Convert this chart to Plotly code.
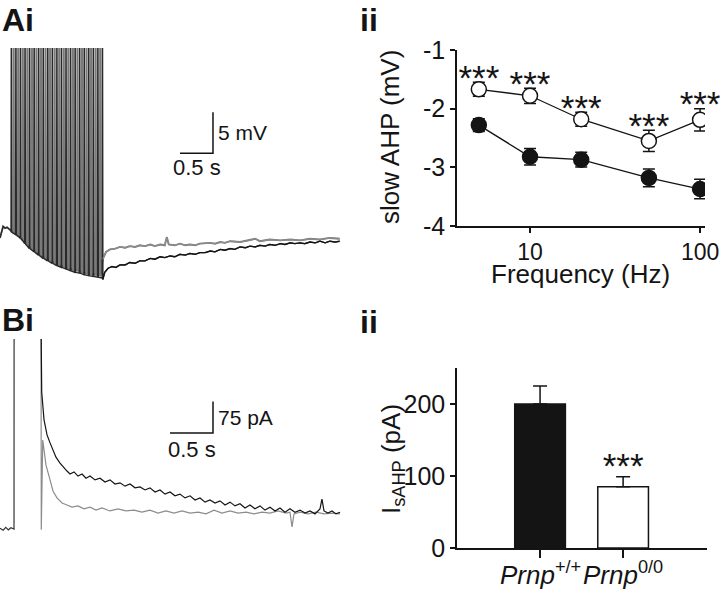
import plotly.graph_objects as go

# ---------------- DATA ----------------
# Panel Ai: current-clamp traces (time in s, membrane potential change in mV)
ai_pre_t = [-0.167, -0.14, -0.12, -0.09, -0.06, -0.03, 0.0]
ai_pre_v = [-1.2, -0.4, 0.2, 0.0, 0.1, -0.1, -0.3]

ai_black_spike_t = [0.0, 0.069, 0.138, 0.207, 0.276, 0.345, 0.414, 0.483, 0.552, 0.621, 0.69,
                    0.759, 0.828, 0.897, 0.966, 1.035, 1.104, 1.173, 1.242, 1.311, 1.38]
ai_black_trough = [-0.5, -0.8, -1.2, -1.9, -2.5, -2.9, -3.3, -3.7, -4.0, -4.3, -4.6,
                   -4.8, -5.0, -5.2, -5.4, -5.5, -5.7, -5.8, -5.9, -6.0, -6.1]
ai_gray_spike_t = [0.035, 0.104, 0.173, 0.242, 0.311, 0.38, 0.449, 0.518, 0.587, 0.656,
                   0.725, 0.794, 0.863, 0.932, 1.001, 1.07, 1.139, 1.208, 1.277, 1.346]
ai_gray_trough = [-0.6, -1.0, -1.5, -2.1, -2.6, -3.0, -3.4, -3.7, -4.0, -4.3,
                  -4.5, -4.7, -4.9, -5.1, -5.2, -5.4, -5.5, -5.6, -5.7, -5.8]
ai_spike_peak = 30.0

ai_black_post_t = [1.39, 1.42, 1.47, 1.53, 1.59, 1.65, 1.73, 1.80, 1.88, 1.95, 2.03, 2.11, 2.18, 2.26,
                   2.33, 2.41, 2.48, 2.56, 2.64, 2.71, 2.79, 2.86, 2.94, 3.02, 3.09, 3.17, 3.24, 3.32,
                   3.39, 3.47, 3.55, 3.62, 3.70, 3.77, 3.85, 3.92, 4.00, 4.08, 4.15, 4.23, 4.30, 4.38,
                   4.45, 4.53, 4.61, 4.68, 4.76, 4.83, 4.91, 4.98]
ai_black_post_v = [-6.3, -5.4, -4.9, -4.7, -4.8, -4.5, -4.5, -4.2, -4.3, -4.0, -4.0, -3.7, -3.8, -3.5,
                   -3.6, -3.4, -3.5, -3.2, -3.3, -3.1, -3.2, -3.0, -3.0, -2.8, -2.9, -2.6, -2.7, -2.5,
                   -2.6, -2.3, -2.4, -2.2, -2.3, -2.1, -2.2, -2.0, -2.1, -1.9, -2.0, -1.8, -1.9, -1.8,
                   -1.9, -1.7, -1.8, -1.6, -1.8, -1.6, -1.7, -1.6]
ai_gray_post_t = [1.39, 1.44, 1.50, 1.58, 1.65, 1.73, 1.80, 1.88, 1.95, 2.03, 2.11, 2.18, 2.26, 2.33,
                  2.36, 2.39, 2.48, 2.56, 2.64, 2.71, 2.79, 2.86, 3.02, 3.09, 3.17, 3.24, 3.32, 3.47,
                  3.62, 3.70, 3.77, 3.92, 4.08, 4.23, 4.38, 4.53, 4.68, 4.83, 4.98]
ai_gray_post_v = [-3.8, -2.9, -2.6, -2.5, -2.3, -2.4, -2.2, -2.3, -2.1, -2.2, -2.0, -2.2, -2.0, -2.1,
                  -1.1, -2.0, -2.1, -1.9, -2.1, -2.0, -2.1, -1.9, -1.8, -1.9, -1.7, -1.8, -1.6, -1.7,
                  -1.5, -1.3, -1.6, -1.4, -1.5, -1.4, -1.5, -1.3, -1.4, -1.2, -1.3]

# Panel Aii: slow AHP vs frequency
freq_hz = [5, 10, 20, 50, 100]
ahp_wt = [-2.28, -2.82, -2.87, -3.18, -3.37]          # filled circles
ahp_wt_err = [0.11, 0.14, 0.125, 0.15, 0.165]
ahp_ko = [-1.67, -1.78, -2.18, -2.55, -2.19]          # open circles
ahp_ko_err = [0.12, 0.13, 0.12, 0.18, 0.19]

# Panel Bi: voltage-clamp traces (time in s, current in pA)
bi_pre_t = [-0.477, -0.44, -0.41, -0.38, -0.35, -0.314, -0.313]
bi_pre_i = [2, -3, 4, -2, 3, 0, 500]
bi_black_t = [0.0, 0.008, 0.035, 0.070, 0.105, 0.140, 0.174, 0.221, 0.267, 0.302, 0.337, 0.384, 0.430,
              0.477, 0.523, 0.570, 0.628, 0.686, 0.744, 0.802, 0.860, 0.919, 0.977, 1.035, 1.093,
              1.151, 1.209, 1.267, 1.326, 1.384, 1.442, 1.500, 1.558, 1.616, 1.674, 1.733, 1.791,
              1.849, 1.907, 1.965, 2.023, 2.081, 2.140, 2.198, 2.256, 2.314, 2.372, 2.430, 2.488,
              2.547, 2.605, 2.663, 2.721, 2.779, 2.837, 2.895, 2.953, 3.012, 3.070, 3.128, 3.186,
              3.244, 3.267, 3.291, 3.337, 3.384, 3.430, 3.477]
bi_black_i = [500, 326, 260, 224, 205, 188, 171, 157, 145, 138, 131, 136, 126,
              131, 121, 126, 117, 121, 112, 117, 107, 110, 102, 107, 98,
              100, 93, 98, 88, 93, 83, 88, 79, 83, 74, 79, 69,
              74, 64, 69, 62, 67, 57, 64, 55, 60, 50, 57, 48,
              55, 45, 52, 43, 50, 40, 48, 40, 45, 38, 43, 36,
              48, 71, 43, 38, 43, 36, 40]
bi_gray_t = [0.0, 0.003, 0.020, 0.058, 0.105, 0.140, 0.186, 0.244, 0.302, 0.360, 0.430, 0.500, 0.570,
             0.640, 0.709, 0.802, 0.895, 0.988, 1.081, 1.174, 1.267, 1.360, 1.453, 1.547, 1.640,
             1.733, 1.826, 1.919, 2.012, 2.105, 2.198, 2.291, 2.384, 2.477, 2.570, 2.663, 2.756,
             2.849, 2.895, 2.919, 2.942, 3.012, 3.105, 3.198, 3.291, 3.384, 3.477]
bi_gray_i = [500, -2, 212, 152, 117, 90, 74, 62, 57, 52, 55, 48, 52,
             45, 50, 43, 48, 43, 45, 40, 45, 38, 43, 38, 43,
             38, 40, 36, 45, 38, 43, 38, 40, 36, 40, 38, 43,
             38, 40, 5, 36, 40, 36, 40, 36, 38, 36]

# Panel Bii: I_sAHP bar chart
genotypes = ["<i>Prnp</i><sup>+/+</sup>", "<i>Prnp</i><sup>0/0</sup>"]
isahp_mean = [200, 85]
isahp_err = [25, 14]

# ---------------- FIGURE ----------------
BLACK = "#141414"
GRAY = "#8c8c8c"
FONT = "Liberation Sans, Arial, sans-serif"
W, H = 720, 590


def dom_x(a, b):
    return [a / W, b / W]


def dom_y(top, bottom):
    return [1 - bottom / H, 1 - top / H]


def spike_path(pre_t, pre_v, st, tr, post_t, post_v):
    xs, ys = list(pre_t), list(pre_v)
    for t, v in zip(st, tr):
        xs += [t, t + 0.005, t + 0.012]
        ys += [v, ai_spike_peak, v]
    xs += post_t
    ys += post_v
    return xs, ys


fig = go.Figure()

# Ai traces
gx, gy = spike_path(ai_pre_t, ai_pre_v, ai_gray_spike_t, ai_gray_trough, ai_gray_post_t, ai_gray_post_v)
bx, by = spike_path(ai_pre_t, ai_pre_v, ai_black_spike_t, ai_black_trough, ai_black_post_t, ai_black_post_v)
fig.add_trace(go.Scatter(x=gx, y=gy, mode="lines", line=dict(color="#7a7a7a", width=1.9),
                         xaxis="x", yaxis="y", hoverinfo="skip"))
fig.add_trace(go.Scatter(x=bx, y=by, mode="lines", line=dict(color="#2a2a2a", width=1.4),
                         xaxis="x", yaxis="y", hoverinfo="skip"))
fig.add_trace(go.Scatter(x=ai_gray_post_t, y=ai_gray_post_v, mode="lines", line=dict(color=GRAY, width=1.3),
                         xaxis="x", yaxis="y", hoverinfo="skip"))
fig.add_trace(go.Scatter(x=ai_black_post_t, y=ai_black_post_v, mode="lines", line=dict(color=BLACK, width=1.3),
                         xaxis="x", yaxis="y", hoverinfo="skip"))
# Ai scale bar: 0.5 s, 5 mV
fig.add_trace(go.Scatter(x=[2.56, 3.06, 3.06], y=[9.15, 9.15, 14.15], mode="lines",
                         line=dict(color=BLACK, width=1.5), xaxis="x", yaxis="y", hoverinfo="skip"))

# Aii
fig.add_trace(go.Scatter(x=freq_hz, y=ahp_wt, mode="lines+markers",
                         line=dict(color=BLACK, width=1.3),
                         marker=dict(symbol="circle", size=15, color=BLACK, line=dict(color=BLACK, width=1.5)),
                         error_y=dict(type="data", array=ahp_wt_err, color=BLACK, thickness=1.5, width=6),
                         xaxis="x2", yaxis="y2", hoverinfo="skip"))
fig.add_trace(go.Scatter(x=freq_hz, y=ahp_ko, mode="lines+markers",
                         line=dict(color=BLACK, width=1.3),
                         marker=dict(symbol="circle", size=15, color="white", line=dict(color=BLACK, width=1.5)),
                         error_y=dict(type="data", array=ahp_ko_err, color=BLACK, thickness=1.5, width=6),
                         xaxis="x2", yaxis="y2", hoverinfo="skip"))
fig.add_trace(go.Scatter(x=freq_hz, y=[v + e + 0.02 for v, e in zip(ahp_ko, ahp_ko_err)],
                         mode="text", text=["***"] * len(freq_hz), textposition="middle center",
                         textfont=dict(family=FONT, size=35, color=BLACK),
                         xaxis="x2", yaxis="y2", hoverinfo="skip", cliponaxis=False))

# Bi traces
fig.add_trace(go.Scatter(x=bi_pre_t, y=bi_pre_i, mode="lines", line=dict(color="#333333", width=1.2),
                         xaxis="x3", yaxis="y3", hoverinfo="skip"))
fig.add_trace(go.Scatter(x=bi_gray_t, y=bi_gray_i, mode="lines", line=dict(color=GRAY, width=1.2),
                         xaxis="x3", yaxis="y3", hoverinfo="skip"))
fig.add_trace(go.Scatter(x=bi_black_t, y=bi_black_i, mode="lines", line=dict(color=BLACK, width=1.2),
                         xaxis="x3", yaxis="y3", hoverinfo="skip"))
# Bi scale bar: 0.5 s, 75 pA
fig.add_trace(go.Scatter(x=[1.5, 2.0, 2.0], y=[228.6, 228.6, 303.6], mode="lines",
                         line=dict(color=BLACK, width=1.5), xaxis="x3", yaxis="y3", hoverinfo="skip"))

# Bii
bar_x = [0, 1]
fig.add_trace(go.Bar(x=bar_x, y=isahp_mean, width=0.61,
                     marker=dict(color=[BLACK, "white"], line=dict(color=BLACK, width=1.5)),
                     error_y=dict(type="data", array=isahp_err, arrayminus=[0, 0], color=BLACK,
                                  thickness=1.5, width=7),
                     xaxis="x4", yaxis="y4", hoverinfo="skip"))
fig.add_trace(go.Scatter(x=[1], y=[isahp_mean[1] + isahp_err[1] + 10], mode="text", text=["***"],
                         textposition="middle center", textfont=dict(family=FONT, size=35, color=BLACK),
                         xaxis="x4", yaxis="y4", hoverinfo="skip", cliponaxis=False))

hidden = dict(visible=False, fixedrange=True)
tickfont = dict(family=FONT, size=23, color=BLACK)
axis_common = dict(showline=True, linecolor=BLACK, linewidth=1.5, ticks="outside", ticklen=5,
                   tickwidth=1.5, tickcolor=BLACK, showgrid=False, zeroline=False, tickfont=tickfont,
                   fixedrange=True, automargin=False)

fig.update_layout(
    width=W, height=H, autosize=False,
    margin=dict(l=0, r=0, t=0, b=0, pad=0, autoexpand=False),
    paper_bgcolor="white", plot_bgcolor="white", showlegend=False,
    font=dict(family=FONT, color=BLACK),
    xaxis=dict(domain=dom_x(0, 345), range=[-0.167, 5.06], anchor="y", **hidden),
    yaxis=dict(domain=dom_y(48, 285), range=[-6.95, 22], anchor="x", **hidden),
    xaxis2=dict(domain=dom_x(457, 705), type="log", range=[0.5706, 2.029], anchor="y2",
                tickvals=[10, 100], ticktext=["10", "100"], **axis_common),
    yaxis2=dict(domain=dom_y(50, 226), range=[-4, -1], anchor="x2",
                tickvals=[-1, -2, -3, -4], ticktext=["-1", "-2", "-3", "-4"],
                **{**axis_common, "tickfont": dict(family=FONT, size=25, color=BLACK)}),
    xaxis3=dict(domain=dom_x(0, 345), range=[-0.477, 3.535], anchor="y3", **hidden),
    yaxis3=dict(domain=dom_y(339, 540), range=[-26.2, 452.4], anchor="x3", **hidden),
    xaxis4=dict(domain=dom_x(457, 707), range=[-1, 2.01], anchor="y4",
                tickvals=bar_x, showticklabels=False, **{**axis_common, "ticklen": 8}),
    yaxis4=dict(domain=dom_y(368, 548), range=[0, 250], anchor="x4",
                tickvals=[0, 100, 200], **{**axis_common, "tickfont": dict(family=FONT, size=25, color=BLACK)}),
)

ann = []
def label(text, x, y, size=30, **kw):
    d = dict(text=text, x=x / W, y=1 - y / H, xref="paper", yref="paper", showarrow=False,
             font=dict(family=FONT, size=size, color=BLACK))
    d.update(kw)
    ann.append(d)

label("<b>Ai</b>", 0, 0, size=32, xanchor="left", yanchor="top")
label("<b>ii</b>", 358, 0, size=32, xanchor="left", yanchor="top")
label("<b>Bi</b>", 0, 300, size=32, xanchor="left", yanchor="top")
label("<b>ii</b>", 358, 302, size=32, xanchor="left", yanchor="top")
label("5 mV", 216, 132, size=21, xanchor="left", yanchor="middle")
label("0.5 s", 197, 167, size=22, xanchor="center", yanchor="middle")
label("75 pA", 216, 417, size=21, xanchor="left", yanchor="middle")
label("0.5 s", 192, 449, size=22, xanchor="center", yanchor="middle")
label("slow AHP (mV)", 390, 137, size=26, textangle=-90, xanchor="center", yanchor="middle")
label("Frequency (Hz)", 580, 274, size=26, xanchor="center", yanchor="middle")
label("I<sub>sAHP</sub> (pA)", 393, 459, size=26, textangle=-90, xanchor="center", yanchor="middle")
fig.update_layout(annotations=ann)

# genotype category labels under the bars (data x, paper y)
for gx_, name in zip(bar_x, genotypes):
    fig.add_annotation(text=name, x=gx_, xref="x4", y=1 - 573 / H, yref="paper", showarrow=False,
                       xanchor="center", yanchor="middle", font=dict(family=FONT, size=26, color=BLACK))

fig.write_html("out.html", config={"displayModeBar": False},
               post_script="document.body.style.margin='0px';document.body.style.overflow='hidden';")
